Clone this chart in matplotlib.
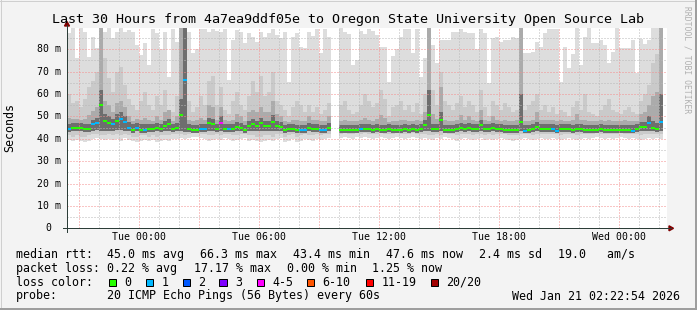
import numpy as np
import matplotlib
matplotlib.use("Agg")
import matplotlib.pyplot as plt
from matplotlib.patches import Rectangle, Polygon
from matplotlib.lines import Line2D

nan = np.nan

# ---------------- data (ms), one value per 12-minute step ----------------
# step 0 starts Mon 20:24 (hours relative to Tue 00:00)
step_start = -3.6
step_hours = 0.2

median = [
    44.4, 45.0, 45.0, 45.0, 44.4, 44.4, 46.5, 47.2, 55.1, 48.0,
    47.2, 46.5, 48.0, 48.9, 47.5, 45.0, 44.0, 45.0, 44.0, 44.0,
    44.4, 44.4, 45.0, 44.4, 45.9, 46.5, 44.4, 45.0, 50.8, 66.3,
    44.4, 44.0, 44.0, 44.4, 44.4, 47.0, 46.5, 44.4, 47.2, 44.4,
    44.4, 44.4, 45.4, 45.0, 44.0, 45.9, 46.5, 45.9, 47.0, 45.9,
    45.9, 47.5, 45.9, 45.4, 44.0, 44.4, 44.4, 44.0, 44.0, 44.0,
    45.0, 44.4, 44.4, 44.0, 44.0, 45.0, nan, nan, 44.0, 44.0,
    44.0, 44.0, 44.0, 44.4, 44.4, 44.4, 44.0, 44.4, 44.0, 44.0,
    44.4, 44.0, 44.0, 43.8, 44.4, 44.0, 44.4, 44.0, 44.4, 46.0,
    50.8, 44.4, 44.4, 48.3, 44.0, 44.0, 44.0, 44.4, 45.0, 44.4,
    45.0, 44.4, 44.4, 46.2, 44.4, 44.4, 45.0, 44.4, 44.4, 44.0,
    43.8, 44.0, 44.0, 47.5, 43.7, 44.0, 44.4, 45.4, 44.4, 44.4,
    44.4, 44.4, 43.7, 44.4, 44.4, 44.4, 44.0, 44.4, 44.4, 44.0,
    44.0, 44.0, 44.0, 44.4, 44.0, 44.0, 44.0, 44.0, 44.0, 44.0,
    44.0, 43.7, 44.4, 45.4, 45.4, 47.0, 45.0, 44.4, 47.5, nan,
]

# lost pings per step (out of 20)
loss = [
    1, 0, 0, 0, 0, 0, 1, 1, 0, 0,
    0, 1, 0, 1, 1, 1, 0, 1, 0, 1,
    0, 0, 0, 0, 0, 0, 0, 0, 0, 1,
    0, 0, 0, 1, 1, 0, 0, 0, 4, 0,
    1, 0, 0, 0, 0, 0, 0, 0, 0, 0,
    0, 0, 0, 0, 0, 0, 0, 0, 1, 1,
    0, 0, 0, 1, 1, 0, 0, 0, 0, 0,
    0, 0, 0, 1, 0, 0, 0, 0, 0, 0,
    0, 0, 0, 0, 0, 0, 0, 0, 0, 0,
    0, 0, 0, 0, 0, 0, 0, 0, 0, 0,
    0, 0, 0, 0, 0, 0, 0, 0, 0, 0,
    0, 0, 0, 0, 1, 0, 0, 0, 0, 0,
    0, 1, 1, 0, 0, 0, 0, 0, 0, 0,
    0, 0, 0, 0, 0, 0, 0, 0, 0, 0,
    0, 1, 0, 0, 0, 1, 0, 0, 1, 0,
]

# smoke: max ping per step
ping_max = [
    87.1, 90.0, 75.9, 90.0, 87.9, 76.7, 85.6, 80.4, 90.0, 87.9,
    90.0, 84.9, 87.9, 90.0, 87.9, 88.6, 87.9, 82.0, 77.4, 82.7,
    73.0, 89.0, 87.1, 80.0, 87.9, 67.8, 89.0, 83.4, 88.6, 90.0,
    87.9, 78.2, 80.0, 89.0, 89.0, 87.9, 89.0, 88.3, 87.9, 89.0,
    66.3, 84.2, 88.6, 87.9, 82.7, 87.1, 85.6, 83.4, 87.9, 85.6,
    87.1, 89.0, 86.4, 84.9, 87.9, 65.5, 85.6, 87.1, 81.2, 80.4,
    87.9, 85.9, 89.0, 78.2, 89.0, 85.6, nan, nan, 90.0, 87.9,
    87.0, 73.0, 75.0, 88.0, 87.0, 89.0, 88.0, 86.4, 81.0, 81.0,
    65.5, 77.0, 80.0, 85.6, 89.0, 89.0, 78.2, 89.0, 67.8, 75.9,
    90.0, 82.0, 73.8, 84.2, 84.2, 84.2, 87.9, 87.9, 89.0, 87.9,
    87.1, 87.1, 80.0, 89.0, 87.1, 64.8, 84.9, 85.6, 83.4, 84.2,
    84.2, 85.6, 84.9, 89.0, 78.2, 78.2, 79.0, 83.4, 81.2, 87.1,
    89.0, 89.0, 89.0, 65.5, 81.0, 71.5, 78.0, 90.0, 73.0, 85.6,
    90.0, 83.0, 83.0, 84.0, 82.0, 73.7, 79.0, 90.0, 80.4, 80.4,
    80.4, 84.0, 69.3, 84.5, 82.5, 84.0, 90.0, 90.0, 90.0, nan,
]

# smoke: upper edge of the 2nd band
ping_hi2 = [
    60, 56, 57, 54, 58, 63, 66, 70, 90, 76,
    67, 61, 70, 72, 64, 58, 55, 53, 57, 61,
    55, 53, 59, 55, 62, 53, 52, 59, 90, 90,
    57, 52, 54, 59, 55, 66, 68, 55, 63, 53,
    51, 57, 61, 55, 53, 59, 66, 61, 68, 59,
    61, 70, 57, 55, 53, 50, 54, 57, 55, 52,
    55, 52, 54, 51, 53, 56, nan, nan, 55, 57,
    53, 51, 52, 55, 60, 57, 54, 56, 62, 58,
    50, 54, 55, 57, 53, 55, 52, 56, 51, 60,
    90, 62, 55, 70, 57, 55, 53, 56, 59, 54,
    57, 55, 52, 62, 54, 50, 57, 55, 53, 56,
    54, 52, 53, 90, 53, 55, 57, 60, 53, 55,
    52, 54, 51, 53, 52, 50, 54, 57, 53, 60,
    52, 51, 50, 53, 55, 58, 53, 52, 51, 53,
    54, 52, 51, 57, 60, 64, 74, 78, 90, nan,
]

# smoke: upper edge of the 3rd band
ping_hi3 = [
    49.5, 49.0, 49.0, 48.5, 49.0, 50.5, 52.5, 54.0, 90.0, 57.0,
    55.0, 52.0, 56.0, 57.0, 54.0, 50.0, 48.0, 49.0, 48.5, 49.5,
    48.5, 48.0, 50.0, 48.5, 52.0, 53.0, 48.0, 50.0, 90.0, 90.0,
    48.5, 48.0, 48.5, 49.5, 48.5, 55.0, 54.0, 48.5, 54.0, 48.5,
    48.0, 48.5, 51.0, 50.0, 48.0, 52.0, 53.0, 52.0, 54.0, 52.0,
    52.0, 57.0, 51.0, 50.0, 48.0, 47.5, 48.5, 48.5, 48.0, 48.0,
    50.0, 48.5, 48.5, 48.0, 48.0, 50.0, nan, nan, 48.0, 48.5,
    48.0, 48.0, 48.0, 48.5, 49.5, 48.5, 48.0, 49.0, 50.5, 49.5,
    47.5, 48.0, 48.0, 48.5, 48.5, 48.0, 48.0, 48.5, 48.0, 52.0,
    90.0, 51.0, 49.0, 63.0, 48.5, 48.0, 48.0, 48.5, 50.5, 48.5,
    50.0, 48.5, 48.0, 53.0, 48.5, 48.0, 50.0, 48.5, 48.0, 48.5,
    48.0, 48.0, 48.5, 90.0, 48.0, 48.0, 48.5, 52.0, 48.5, 48.5,
    48.5, 48.5, 48.0, 48.5, 48.0, 48.0, 48.5, 51.0, 48.5, 48.5,
    48.0, 48.0, 48.0, 48.5, 48.0, 48.5, 48.0, 48.0, 48.0, 48.5,
    48.0, 48.0, 48.0, 51.0, 52.0, 55.0, 59.0, 61.0, 90.0, nan,
]

# smoke: upper edge of the inner (dark) band
ping_hi4 = [
    46.5, 47.0, 47.0, 47.0, 46.5, 46.5, 48.5, 49.5, 62.0, 51.0,
    50.0, 49.0, 51.0, 52.0, 50.0, 47.5, 46.5, 47.0, 46.5, 46.5,
    46.5, 46.5, 47.0, 46.5, 48.0, 49.0, 46.5, 47.0, 58.0, 90.0,
    46.5, 46.0, 46.0, 46.5, 46.5, 49.5, 49.0, 46.5, 50.0, 46.5,
    46.5, 46.5, 47.5, 47.0, 46.0, 48.0, 49.0, 48.0, 49.5, 48.0,
    48.0, 50.5, 48.0, 47.5, 46.0, 46.5, 46.5, 46.0, 46.0, 46.0,
    47.0, 46.5, 46.5, 46.0, 46.0, 47.0, nan, nan, 46.0, 46.0,
    46.0, 46.0, 46.0, 46.5, 46.5, 46.5, 46.0, 46.5, 46.0, 46.0,
    46.5, 46.0, 46.0, 46.0, 46.5, 46.0, 46.5, 46.0, 46.5, 48.5,
    62.0, 46.5, 46.5, 52.0, 46.0, 46.0, 46.0, 46.5, 47.0, 46.5,
    47.0, 46.5, 46.5, 48.5, 46.5, 46.5, 47.0, 46.5, 46.5, 46.0,
    46.0, 46.0, 46.0, 60.0, 46.0, 46.0, 46.5, 47.5, 46.5, 46.5,
    46.5, 46.5, 46.0, 46.5, 46.5, 46.5, 46.0, 46.5, 46.5, 46.0,
    46.0, 46.0, 46.0, 46.5, 46.0, 46.0, 46.0, 46.0, 46.0, 46.0,
    46.0, 46.0, 46.5, 47.5, 47.5, 50.0, 48.0, 47.0, 60.0, nan,
]

# smoke: min ping per step
ping_min = [
    39.5, 39.0, 39.5, 39.0, 38.5, 39.0, 40.0, 40.5, 40.0, 39.5,
    40.0, 39.5, 40.0, 39.0, 40.5, 39.5, 39.0, 38.5, 39.0, 39.5,
    39.0, 39.5, 38.5, 39.0, 39.5, 39.0, 40.0, 40.0, 40.5, 40.0,
    40.5, 41.0, 41.0, 40.5, 40.0, 39.0, 39.5, 40.0, 39.5, 40.5,
    40.0, 39.0, 39.5, 40.0, 40.5, 39.0, 39.5, 39.0, 38.5, 39.0,
    39.5, 39.0, 40.0, 40.5, 38.5, 39.0, 40.0, 38.5, 39.0, 40.0,
    39.5, 39.0, 40.0, 39.5, 40.0, 40.5, nan, nan, 40.5, 41.0,
    40.5, 40.0, 41.0, 40.5, 41.0, 40.5, 40.0, 40.5, 41.0, 40.5,
    40.0, 40.5, 41.0, 40.5, 40.0, 40.5, 41.0, 40.5, 40.0, 40.5,
    40.0, 39.5, 40.5, 40.0, 41.0, 40.5, 40.0, 39.0, 40.0, 40.5,
    40.0, 39.5, 40.0, 40.5, 39.5, 40.0, 39.5, 40.0, 40.5, 40.0,
    39.5, 39.0, 39.5, 40.0, 40.5, 40.0, 39.5, 40.0, 40.5, 40.0,
    40.0, 40.5, 40.0, 39.5, 40.0, 40.5, 40.0, 39.5, 40.0, 40.5,
    40.0, 40.5, 41.0, 40.5, 40.0, 40.5, 40.0, 40.5, 41.0, 40.5,
    40.0, 40.5, 40.0, 39.5, 40.0, 40.5, 40.0, 40.5, 40.0, nan,
]

# smoke: lower edge of the 2nd band
ping_lo2 = [
    41.5, 41.0, 41.5, 41.0, 41.0, 41.5, 42.0, 42.0, 41.5, 41.5,
    42.0, 41.5, 42.0, 41.5, 42.0, 41.5, 41.0, 41.0, 41.5, 41.5,
    41.0, 41.5, 41.0, 41.5, 41.5, 41.5, 42.0, 42.0, 42.0, 41.5,
    42.0, 42.5, 42.5, 42.0, 42.0, 41.5, 41.5, 42.0, 41.5, 42.0,
    42.0, 41.5, 41.5, 42.0, 42.0, 41.5, 41.5, 41.0, 41.0, 41.5,
    41.5, 41.0, 42.0, 42.0, 41.0, 41.5, 42.0, 41.0, 41.5, 42.0,
    41.5, 41.5, 42.0, 41.5, 42.0, 42.0, nan, nan, 42.0, 42.5,
    42.0, 42.0, 42.5, 42.0, 42.5, 42.0, 42.0, 42.0, 42.5, 42.0,
    42.0, 42.0, 42.5, 42.0, 42.0, 42.0, 42.5, 42.0, 42.0, 42.0,
    41.5, 41.5, 42.0, 41.5, 42.5, 42.0, 42.0, 41.5, 42.0, 42.0,
    42.0, 41.5, 42.0, 42.0, 41.5, 42.0, 41.5, 42.0, 42.0, 42.0,
    41.5, 41.5, 41.5, 42.0, 42.0, 42.0, 41.5, 42.0, 42.0, 42.0,
    42.0, 42.0, 42.0, 41.5, 42.0, 42.0, 42.0, 41.5, 42.0, 42.0,
    42.0, 42.0, 42.5, 42.0, 42.0, 42.0, 42.0, 42.0, 42.5, 42.0,
    42.0, 42.0, 42.0, 41.5, 42.0, 42.0, 42.0, 42.0, 42.0, nan,
]

# smoke: lower edge of the inner bands
ping_lo3 = [
    43.0, 43.5, 43.5, 43.5, 43.0, 43.0, 43.5, 44.0, 43.5, 43.5,
    43.5, 43.5, 44.0, 44.0, 43.5, 43.5, 42.5, 43.5, 42.5, 42.5,
    43.0, 43.0, 43.5, 43.0, 43.5, 43.5, 43.0, 43.5, 43.5, 43.0,
    43.0, 42.5, 42.5, 43.0, 43.0, 43.5, 43.5, 43.0, 43.5, 43.0,
    43.0, 43.0, 43.5, 43.5, 42.5, 43.5, 43.5, 43.5, 43.5, 43.5,
    43.5, 43.5, 43.5, 43.5, 42.5, 43.0, 43.0, 42.5, 42.5, 42.5,
    43.5, 43.0, 43.0, 42.5, 42.5, 43.5, nan, nan, 42.5, 42.5,
    42.5, 42.5, 42.5, 43.0, 43.0, 43.0, 42.5, 43.0, 42.5, 42.5,
    43.0, 42.5, 42.5, 42.5, 43.0, 42.5, 43.0, 42.5, 43.0, 43.5,
    43.5, 43.0, 43.0, 43.5, 42.5, 42.5, 42.5, 43.0, 43.5, 43.0,
    43.5, 43.0, 43.0, 43.5, 43.0, 43.0, 43.5, 43.0, 43.0, 42.5,
    42.5, 42.5, 42.5, 43.5, 42.5, 42.5, 43.0, 43.5, 43.0, 43.0,
    43.0, 43.0, 42.5, 43.0, 43.0, 43.0, 42.5, 43.0, 43.0, 42.5,
    42.5, 42.5, 42.5, 43.0, 42.5, 42.5, 42.5, 42.5, 42.5, 42.5,
    42.5, 42.5, 43.0, 43.5, 43.5, 43.5, 43.5, 43.0, 43.5, nan,
]

# axis labels
x_label_hours = [0, 6, 12, 18, 24]
x_labels = ["Tue 00:00", "Tue 06:00", "Tue 12:00", "Tue 18:00", "Wed 00:00"]
y_label_vals = [10, 20, 30, 40, 50, 60, 70, 80]
y_labels = ["10 m", "20 m", "30 m", "40 m", "50 m", "60 m", "70 m", "80 m"]

loss_legend = ["0", "1", "2", "3", "4-5", "6-10", "11-19", "20/20"]
loss_legend_colors = ["#26ff00", "#00b8ff", "#0059ff", "#7e00ff",
                      "#ff00ff", "#ff5500", "#ff0000", "#a10000"]

def loss_color(n):
    if n <= 3:
        return loss_legend_colors[n]
    if n <= 5:
        return loss_legend_colors[4]
    if n <= 10:
        return loss_legend_colors[5]
    if n <= 19:
        return loss_legend_colors[6]
    return loss_legend_colors[7]

# ---------------- figure ----------------
W, H, DPI = 697, 310, 100
BG = "#f3f3f3"
plt.rcParams["font.family"] = ["DejaVu Sans Mono"]
fig = plt.figure(figsize=(W / DPI, H / DPI), dpi=DPI, facecolor=BG)

PL, PR, PT, PB = 67, 667, 28.3, 228.3
ax = fig.add_axes([PL / W, 1 - PB / H, (PR - PL) / W, (PB - PT) / H])
ax.set_facecolor("white")
t0 = -(3 + 37 / 60 + 6 / 3600)   # Mon 20:22:54
ax.set_xlim(t0, t0 + 30)
ax.set_ylim(0, 89.39)
for s in ax.spines.values():
    s.set_visible(False)
ax.set_xticks([])
ax.set_yticks([])

n = len(median)
t = step_start + step_hours * np.arange(n)
med = np.array(median)
ok = ~np.isnan(med)


def step_band(lo, hi, color):
    lo = np.asarray(lo, float)
    hi = np.asarray(hi, float)
    valid = ~np.isnan(lo) & ~np.isnan(hi)
    i = 0
    while i < n:
        if not valid[i]:
            i += 1
            continue
        j = i
        while j + 1 < n and valid[j + 1]:
            j += 1
        xs = np.append(t[i:j + 1], t[j] + step_hours)
        lo_s = np.append(lo[i:j + 1], lo[j])
        hi_s = np.append(hi[i:j + 1], hi[j])
        ax.fill_between(xs, lo_s, hi_s, step="post", color=color,
                        linewidth=0, zorder=1)
        i = j + 1


step_band(ping_min, ping_max, "#dddddd")
step_band(ping_lo2, ping_hi2, "#cacaca")
step_band(ping_lo3, ping_hi3, "#ababab")
step_band(ping_lo3, ping_hi4, "#6e6e6e")

# grid
px = 1 / DPI * 72
GRID = (0.72, 0.72, 0.72)
MGRID = (0.96, 0.55, 0.55)
for h in range(-3, 27):
    major = (h % 3 == 0)
    ax.axvline(h, color=MGRID if major else GRID, lw=px,
               dashes=(1, 2), zorder=2)
for v in range(5, 90, 5):
    major = (v % 10 == 0)
    ax.axhline(v, color=MGRID if major else GRID, lw=px,
               dashes=(1, 2), zorder=2)

# median line coloured by loss
ax.hlines(med[ok], t[ok], t[ok] + step_hours,
          colors=[loss_color(l) for l, k in zip(loss, ok) if k],
          lw=2 * px, zorder=3, capstyle="butt")

# axis labels
for h, lab in zip(x_label_hours, x_labels):
    ax.text(h, -0.042, lab, transform=ax.get_xaxis_transform(),
            ha="center", va="center", fontsize=7.1, clip_on=False)
for v, lab in zip(y_label_vals, y_labels):
    ax.text(-6 / 600, v, lab, transform=ax.get_yaxis_transform(),
            ha="right", va="center", fontsize=7.1, clip_on=False)
ax.text(-19 / 600, 0, "0", transform=ax.get_yaxis_transform(),
        ha="center", va="center", fontsize=7.1, clip_on=False)

# ---------------- figure decorations (pixel coords) ----------------
def fx(x):
    return x / W

def fy(y):
    return 1 - y / H

AXIS = "#2c3d38"
ARROW = "#7f0000"
fig.add_artist(Line2D([fx(63), fx(671)], [fy(228.3), fy(228.3)], color=AXIS, lw=px))
fig.add_artist(Line2D([fx(67), fx(67)], [fy(231.5), fy(25)], color=AXIS, lw=px))
fig.add_artist(Polygon([[fx(64.5), fy(26)], [fx(69.5), fy(26)], [fx(67), fy(21.5)]],
                       closed=True, color=ARROW, transform=fig.transFigure))
fig.add_artist(Polygon([[fx(669), fy(225.8)], [fx(669), fy(230.8)], [fx(673.5), fy(228.3)]],
                       closed=True, color=ARROW, transform=fig.transFigure))

# frame shading
fig.add_artist(Line2D([0, 1], [fy(0.5), fy(0.5)], color="#cfcfcf", lw=px))
fig.add_artist(Line2D([fx(0.5), fx(0.5)], [0, 1], color="#cfcfcf", lw=px))
fig.add_artist(Line2D([0, 1], [fy(309), fy(309)], color="#9e9e9e", lw=2 * px))
fig.add_artist(Line2D([fx(696), fx(696)], [0, 1], color="#9e9e9e", lw=2 * px))

# title
fig.text(fx(348), fy(19), "Last 30 Hours from 4a7ea9ddf05e to Oregon State University Open Source Lab",
         ha="center", va="center", fontsize=9.6)
fig.text(fx(10), fy(128), "Seconds", rotation=90, ha="center", va="center", fontsize=8.4)
fig.text(fx(687), fy(60), "RRDTOOL / TOBI OETIKER", rotation=270, ha="center", va="center",
         fontsize=5.8, color="#b0b0b0")

# legend
FS = 8.4
rows_y = [254.3, 268.3, 282.0, 296.0]
line1 = [(16, "median rtt:"), (107.3, "45.0 ms avg"), (200, "66.3 ms max"),
         (292.7, "43.4 ms min"), (385.7, "47.6 ms now"), (479, "2.4 ms sd"),
         (558.3, "19.0   am/s")]
line2 = [(16, "packet loss:"), (107.3, "0.22 % avg"), (194.3, "17.17 % max"),
         (286.7, "0.00 % min"), (372.3, "1.25 % now")]
for x, s in line1:
    fig.text(fx(x), fy(rows_y[0]), s, ha="left", va="center", fontsize=FS)
for x, s in line2:
    fig.text(fx(x), fy(rows_y[1]), s, ha="left", va="center", fontsize=FS)

fig.text(fx(16), fy(rows_y[2]), "loss color:", ha="left", va="center", fontsize=FS)
box_x = [108.7, 145.7, 182.7, 219.3, 256.7, 306.7, 365.7, 430.7]
for bx, lab, col in zip(box_x, loss_legend, loss_legend_colors):
    fig.add_artist(Rectangle((fx(bx), fy(286.3)), 7.5 / W, 7.5 / H, facecolor=col,
                             edgecolor="black", lw=px, transform=fig.transFigure))
    fig.text(fx(bx + 15.5), fy(rows_y[2]), lab, ha="left", va="center", fontsize=FS)

fig.text(fx(16), fy(rows_y[3]), "probe:", ha="left", va="center", fontsize=FS)
fig.text(fx(107.3), fy(rows_y[3]), "20 ICMP Echo Pings (56 Bytes) every 60s",
         ha="left", va="center", fontsize=FS)
fig.text(fx(680), fy(rows_y[3]), "Wed Jan 21 02:22:54 2026", ha="right", va="center", fontsize=FS)

fig.savefig("out.png", dpi=DPI, facecolor=BG)
